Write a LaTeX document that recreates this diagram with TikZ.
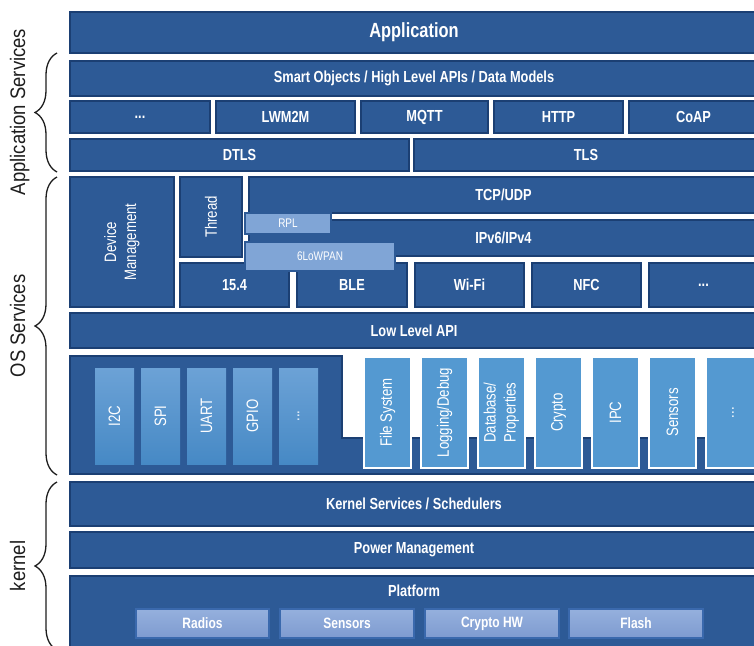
\documentclass[tikz,border=0pt]{standalone}
\usepackage{fontspec}
\setmainfont{Liberation Sans}[FakeStretch=0.8]
\newfontfamily\sidefont{Liberation Sans}[FakeStretch=0.88]
\usepackage{graphicx}
\usetikzlibrary{decorations.pathreplacing}
\definecolor{dfill}{HTML}{2D5A96}
\definecolor{dline}{HTML}{1B3F73}
\definecolor{lfill}{HTML}{80A5D6}
\definecolor{sfill}{HTML}{5499D1}
\definecolor{gtop}{HTML}{6CA2D6}
\definecolor{gbot}{HTML}{4689C5}
\definecolor{ptop}{HTML}{95B0DD}
\definecolor{pbot}{HTML}{7E9BD0}
\definecolor{pline}{HTML}{3A69AD}
\definecolor{sidetxt}{HTML}{1E1E1E}
\newcommand\bx[7][]{\node[dbox,#1,minimum width={(#5)-(#3)},minimum height={(#6)-(#4)}] (#2) at ({((#3)+(#5))/2},{((#4)+(#6))/2}) {#7};}
\newcommand\vt[1]{\rotatebox{90}{#1}}
\newcommand\vtt[2]{\rotatebox{90}{\begin{tabular}{@{}c@{}}#1\\#2\end{tabular}}}
\begin{document}
\begin{tikzpicture}[x=1pt,y=-1pt,
  dbox/.style={draw=dline,fill=dfill,line width=1.5pt,inner sep=0pt,text=white,font=\fontsize{16}{19}\selectfont\bfseries},
  lbox/.style={draw=dfill,fill=lfill,line width=1.5pt,font=\fontsize{12.5}{15}\selectfont\mdseries},
  sbox/.style={draw=white,fill=sfill,line width=1.5pt,font=\fontsize{16.5}{20}\selectfont\mdseries},
  gbox/.style={draw=none,top color=gtop,bottom color=gbot,font=\fontsize{16.5}{20}\selectfont\mdseries},
  pbox/.style={draw=pline,top color=ptop,bottom color=pbot,line width=2pt,font=\fontsize{15}{18}\selectfont\bfseries},
  vbox/.style={font=\fontsize{16.5}{20}\selectfont\mdseries},
  brc/.style={draw=sidetxt,line width=1.3pt,decorate,decoration={brace,amplitude=22pt}},
  side/.style={text=sidetxt,font=\sidefont\fontsize{21}{24}\selectfont,rotate=90,anchor=base,inner sep=0pt}
]
\useasboundingbox (0,0) rectangle (754,645);
\clip (0,0) rectangle (754,645);
\fill[white] (0,0) rectangle (754,645);

% application services
\bx[font=\fontsize{20.5}{24}\selectfont\bfseries]{app}{70}{12}{758}{53}{Application}
\bx{smart}{70}{61}{758}{96}{Smart Objects / High Level APIs / Data Models}
\bx{pdots}{70}{101}{210}{133}{...}
\bx{lwm}{216}{101}{355}{133}{LWM2M}
\bx{mqtt}{361}{101}{488}{133}{MQTT}
\bx{http}{494}{101}{623}{133}{HTTP}
\bx{coap}{629}{101}{758}{133}{CoAP}
\bx{dtls}{70}{139}{409}{171}{DTLS}
\bx{tls}{414}{139}{758}{171}{TLS}

% OS services
\bx[vbox]{devm}{70}{177}{174}{307}{\vtt{Device}{Management}}
\bx[vbox]{thread}{180}{177}{242}{257}{\vt{Thread}}
\bx{tcp}{249}{177}{758}{213}{TCP/UDP}
\bx{ip}{249}{220}{758}{256}{IPv6/IPv4}
\bx{n154}{180}{263}{289}{307}{15.4}
\bx{ble}{297}{263}{407}{307}{BLE}
\bx{wifi}{415}{263}{524}{307}{Wi-Fi}
\bx{nfc}{532}{263}{641}{307}{NFC}
\bx{ldots}{649}{263}{758}{307}{...}
\bx[lbox]{rpl}{245}{213}{331}{234}{RPL}
\bx[lbox]{lowpan}{245}{242}{395}{271}{6LoWPAN}
\bx{lowapi}{70}{313}{758}{348}{Low Level API}

\path[draw=dline,fill=dfill,line width=1.5pt] (70,356) -- (342,356) -- (342,438) -- (758,438) -- (758,474) -- (70,474) -- cycle;
\bx[gbox]{i2c}{95}{368}{134}{464}{\vt{I2C}}
\bx[gbox]{spi}{141}{368}{180}{464}{\vt{SPI}}
\bx[gbox]{uart}{187}{368}{226}{464}{\vt{UART}}
\bx[gbox]{gpio}{233}{368}{272}{464}{\vt{GPIO}}
\bx[gbox]{gdots}{279}{368}{318}{464}{\vt{...}}
\bx[sbox]{fs}{364}{357}{411}{468}{\vt{File System}}
\bx[sbox]{logd}{421}{357}{468}{468}{\vt{Logging/Debug}}
\bx[sbox]{db}{478}{357}{525}{468}{\vtt{Database/}{Properties}}
\bx[sbox]{crypto}{535}{357}{582}{468}{\vt{Crypto}}
\bx[sbox]{ipc}{592}{357}{639}{468}{\vt{IPC}}
\bx[sbox]{sens}{649}{357}{696}{468}{\vt{Sensors}}
\bx[sbox]{sdots}{706}{357}{760}{468}{\vt{...}}

% kernel
\bx{ks}{70}{482}{758}{526}{Kernel Services / Schedulers}
\bx{pm}{70}{532}{758}{568}{Power Management}
\bx{plat}{70}{576}{758}{652}{}
\node[text=white,font=\fontsize{16}{19}\selectfont\bfseries,inner sep=0pt] (platlbl) at (414,591) {Platform};
\bx[pbox]{radios}{136}{609}{269}{638}{Radios}
\bx[pbox]{hsens}{280}{609}{414}{638}{Sensors}
\bx[pbox]{chw}{425}{609}{559}{638}{Crypto HW}
\bx[pbox]{flash}{569}{609}{703}{638}{Flash}

% braces and side labels
\coordinate (asT) at (57,53);
\coordinate (asB) at (57,172);
\coordinate (osT) at (57,177);
\coordinate (osB) at (57,475);
\coordinate (kT) at (57,482);
\coordinate (kB) at (57,650);
\draw[brc] (asB) -- (asT);
\draw[brc] (osB) -- (osT);
\draw[brc] (kB) -- (kT);
\node[side] (lblas) at (25,112) {Application Services};
\node[side] (lblos) at (25,326) {OS Services};
\node[side] (lblk) at (25,566) {kernel};
\end{tikzpicture}
\end{document}
